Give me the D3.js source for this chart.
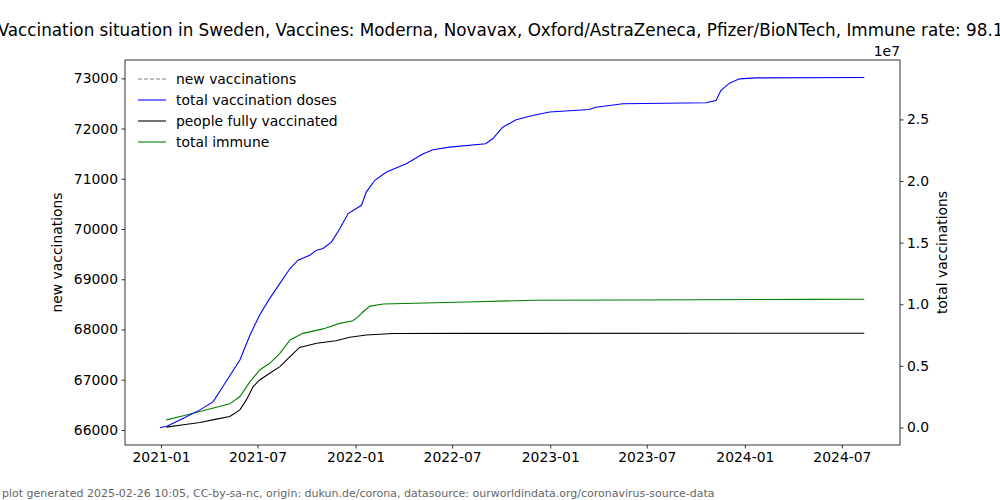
<!DOCTYPE html>
<html><head><meta charset="utf-8">
<script src="https://cdn.jsdelivr.net/npm/d3@7"></script>
<style>body{margin:0;background:#fff}svg{display:block}text{font-family:"DejaVu Sans",sans-serif}</style>
</head><body>
<svg id="c" width="1000" height="500"></svg>
<script>
// ---- data ----
const newVacDates = ["2021-12-01"];
const newVacValues = [69530];

const totalDates = ["2020-12-30","2021-01-11","2021-02-12","2021-03-15","2021-04-09","2021-04-25","2021-05-13","2021-05-29","2021-06-17","2021-07-05","2021-07-24","2021-08-12","2021-08-31","2021-09-15","2021-10-07","2021-10-20","2021-11-01","2021-11-17","2021-12-02","2021-12-18","2022-01-12","2022-01-21","2022-02-06","2022-02-28","2022-04-06","2022-05-07","2022-05-26","2022-06-26","2022-09-02","2022-09-15","2022-10-04","2022-10-29","2022-11-29","2022-12-31","2023-03-15","2023-03-28","2023-05-17","2023-10-20","2023-11-08","2023-11-17","2023-12-03","2023-12-22","2024-01-22","2024-08-12"];
const totalValues = [0,0.08e6,0.76e6,1.43e6,2.1e6,3.19e6,4.4e6,5.48e6,7.5e6,9.13e6,10.48e6,11.69e6,12.9e6,13.58e6,13.98e6,14.39e6,14.53e6,15.06e6,16.1e6,17.36e6,18.03e6,19.1e6,20.06e6,20.73e6,21.4e6,22.2e6,22.54e6,22.75e6,23.03e6,23.43e6,24.37e6,24.97e6,25.32e6,25.6e6,25.8e6,25.99e6,26.27e6,26.35e6,26.53e6,27.34e6,27.94e6,28.29e6,28.37e6,28.4e6];

const fullyDates = ["2021-01-11","2021-02-12","2021-03-15","2021-04-15","2021-05-10","2021-05-29","2021-06-10","2021-06-23","2021-07-05","2021-07-24","2021-08-12","2021-08-31","2021-09-18","2021-10-20","2021-11-25","2021-12-21","2022-01-21","2022-03-12","2022-07-28","2024-08-12"];
const fullyValues = [0.03e6,0.22e6,0.4e6,0.68e6,0.89e6,1.43e6,2.24e6,3.32e6,3.86e6,4.4e6,4.94e6,5.75e6,6.5e6,6.83e6,7.04e6,7.32e6,7.5e6,7.63e6,7.64e6,7.65e6];

const immuneDates = ["2021-01-11","2021-02-12","2021-03-15","2021-04-15","2021-05-10","2021-05-29","2021-06-17","2021-07-05","2021-07-24","2021-08-12","2021-08-31","2021-09-24","2021-11-01","2021-12-02","2021-12-27","2022-01-06","2022-01-15","2022-01-28","2022-02-22","2022-07-28","2022-11-29","2023-06-04","2024-05-01","2024-08-12"];
const immuneValues = [0.62e6,0.95e6,1.3e6,1.65e6,1.92e6,2.51e6,3.72e6,4.67e6,5.21e6,6.02e6,7.1e6,7.64e6,8.0e6,8.45e6,8.66e6,8.99e6,9.39e6,9.85e6,10.02e6,10.18e6,10.32e6,10.34e6,10.4e6,10.41e6];

const xTickLabels = ["2021-01","2021-07","2022-01","2022-07","2023-01","2023-07","2024-01","2024-07"];
const leftTicks = [66000,67000,68000,69000,70000,71000,72000,73000];
const rightTicks = [0,0.5e7,1.0e7,1.5e7,2.0e7,2.5e7];

const titleText = "Vaccination situation in Sweden, Vaccines: Moderna, Novavax, Oxford/AstraZeneca, Pfizer/BioNTech, Immune rate: 98.1%";
const footerText = "plot generated 2025-02-26 10:05, CC-by-sa-nc, origin: dukun.de/corona, datasource: ourworldindata.org/coronavirus-source-data";

// ---- drawing ----
const parse = d3.timeParse("%Y-%m-%d");
const parseM = d3.timeParse("%Y-%m");
const L = 125, R = 900, T = 60, B = 445;
const svg = d3.select("#c");

const x = d3.scaleTime().domain([new Date(2020,9,25,12), new Date(2024,9,18)]).range([L, R]);
const yL = d3.scaleLinear().domain([65700, 73365]).range([B, T]);
const yR = d3.scaleLinear().domain([-1.42e6, 2.982e7]).range([B, T]);

const fs = "13.9px";

// axes
const xAxis = d3.axisBottom(x).tickValues(xTickLabels.map(parseM)).tickFormat(d3.timeFormat("%Y-%m")).tickSize(3.5).tickPadding(3.5);
const gx = svg.append("g").attr("transform", `translate(0,${B})`).call(xAxis);
const lAxis = d3.axisLeft(yL).tickValues(leftTicks).tickFormat(d3.format("d")).tickSize(3.5).tickPadding(3.5);
const gl = svg.append("g").attr("transform", `translate(${L},0)`).call(lAxis);
const rAxis = d3.axisRight(yR).tickValues(rightTicks).tickFormat(d => (d/1e7).toFixed(1)).tickSize(3.5).tickPadding(3.5);
const gr = svg.append("g").attr("transform", `translate(${R},0)`).call(rAxis);
[gx, gl, gr].forEach(g => {
  g.select(".domain").remove();
  g.selectAll("text").attr("font-size", fs).attr("fill", "#000").style("font-family", '"DejaVu Sans",sans-serif');
  g.selectAll("line").attr("stroke", "#000").attr("stroke-width", 0.8);
});

// lines
function series(dates, vals) { return dates.map((d, i) => ({d: parse(d), v: vals[i]})); }
const lineR = d3.line().x(p => x(p.d)).y(p => yR(p.v));
const lineL = d3.line().x(p => x(p.d)).y(p => yL(p.v));
svg.append("clipPath").attr("id", "clp").append("rect").attr("x", L).attr("y", T).attr("width", R-L).attr("height", B-T);
const plot = svg.append("g").attr("clip-path", "url(#clp)");
plot.append("path").datum(series(newVacDates, newVacValues)).attr("d", lineL).attr("fill", "none").attr("stroke", "gray").attr("stroke-dasharray", "4,2").attr("stroke-width", 1);
plot.append("path").datum(series(immuneDates, immuneValues)).attr("d", lineR).attr("fill", "none").attr("stroke", "green").attr("stroke-width", 1.1);
plot.append("path").datum(series(fullyDates, fullyValues)).attr("d", lineR).attr("fill", "none").attr("stroke", "black").attr("stroke-width", 1.1);
plot.append("path").datum(series(totalDates, totalValues)).attr("d", lineR).attr("fill", "none").attr("stroke", "blue").attr("stroke-width", 1.1);

// frame
svg.append("rect").attr("x", L).attr("y", T).attr("width", R-L).attr("height", B-T).attr("fill", "none").attr("stroke", "#000").attr("stroke-width", 0.8);

// labels
svg.append("text").attr("x", 508.5).attr("y", 36).attr("text-anchor", "middle").attr("font-size", "16.8px").text(titleText);
svg.append("text").attr("x", R).attr("y", 56).attr("text-anchor", "end").attr("font-size", fs).text("1e7");
svg.append("text").attr("transform", `translate(62,${(T+B)/2}) rotate(-90)`).attr("text-anchor", "middle").attr("font-size", fs).text("new vaccinations");
svg.append("text").attr("transform", `translate(947,${(T+B)/2}) rotate(-90)`).attr("text-anchor", "middle").attr("font-size", fs).text("total vaccinations");
svg.append("text").attr("x", 2).attr("y", 497).attr("font-size", "11px").attr("fill", "#666").text(footerText);

// legend
const legendNames = ["new vaccinations","total vaccination doses","people fully vaccinated","total immune"];
const legendColors = ["gray","blue","black","green"];
legendNames.forEach((n, i) => {
  const yy = 79 + i * 21;
  svg.append("line").attr("x1", 138).attr("x2", 166).attr("y1", yy).attr("y2", yy)
    .attr("stroke", legendColors[i]).attr("stroke-width", i === 0 ? 1 : 1.1).attr("stroke-dasharray", i === 0 ? "4,2" : null);
  svg.append("text").attr("x", 176).attr("y", yy + 5).attr("font-size", fs).attr("fill", "#000").text(n);
});
</script>
</body></html>
